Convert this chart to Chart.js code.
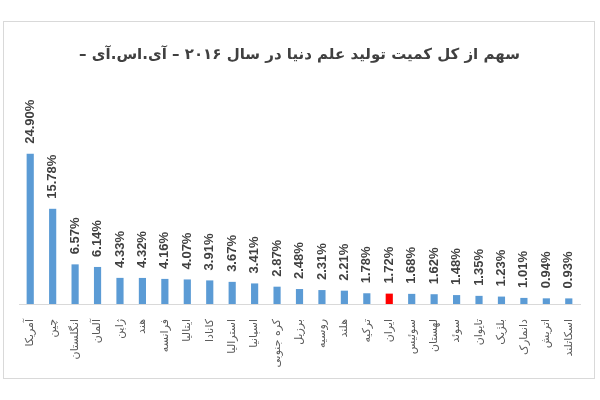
<!DOCTYPE html>
<html>
<head>
<meta charset="utf-8">
<script src="https://cdn.jsdelivr.net/npm/chart.js@4.4.0/dist/chart.umd.min.js"></script>
<style>
    body { margin: 0; background: #fff; }
    #box {
        position: absolute;
        left: 3px;
        top: 21px;
        width: 590px;
        height: 356px;
        border: 1px solid #d9d9d9;
    }
</style>
</head>
<body>
<div id="box"><canvas id="graph" dir="rtl" width="590" height="356"></canvas></div>
<script>
// عنوان و داده ها
const chartTitle = 'سهم از کل کمیت تولید علم دنیا در سال ۲۰۱۶ – آی.اس.آی –';

const countries = [
    'آمریکا', 'چین', 'انگلستان', 'آلمان', 'ژاپن', 'هند', 'فرانسه', 'ایتالیا',
    'کانادا', 'استرالیا', 'اسپانیا', 'کره جنوبی', 'برزیل', 'روسیه', 'هلند',
    'ترکیه', 'ایران', 'سوئیس', 'لهستان', 'سوئد', 'تایوان', 'بلژیک',
    'دانمارک', 'اتریش', 'اسکاتلند'
];

const shares = [
    24.90, 15.78, 6.57, 6.14, 4.33, 4.32, 4.16, 4.07,
    3.91, 3.67, 3.41, 2.87, 2.48, 2.31, 2.21,
    1.78, 1.72, 1.68, 1.62, 1.48, 1.35, 1.23,
    1.01, 0.94, 0.93
];

const highlighted = 'ایران';

const barColors = countries.map(c => c === highlighted ? '#ff0000' : '#5b9bd5');

// value labels drawn rotated above each bar
const valueLabels = {
    id: 'valueLabels',
    afterDatasetsDraw(chart) {
        const ctx = chart.ctx;
        const meta = chart.getDatasetMeta(0);
        ctx.save();
        ctx.fillStyle = '#404040';
        ctx.font = 'bold 13px "Liberation Sans", Arial, sans-serif';
        ctx.textAlign = 'left';
        ctx.textBaseline = 'middle';
        ctx.direction = 'ltr';
        meta.data.forEach((bar, i) => {
            ctx.save();
            ctx.translate(bar.x, bar.y - 10);
            ctx.rotate(-Math.PI / 2);
            ctx.fillText(shares[i].toFixed(2) + '%', 0, 0);
            ctx.restore();
        });
        ctx.restore();
    }
};

new Chart(document.getElementById('graph'), {
    type: 'bar',
    data: {
        labels: countries,
        datasets: [{
            data: shares,
            backgroundColor: barColors,
            barPercentage: 0.32,
            categoryPercentage: 1
        }]
    },
    options: {
        responsive: false,
        animation: false,
        layout: {
            padding: { left: 15, right: 14, top: 0, bottom: 0 }
        },
        plugins: {
            legend: { display: false },
            tooltip: { enabled: false },
            title: {
                display: true,
                text: chartTitle,
                color: '#404040',
                font: { family: '"DejaVu Sans", sans-serif', size: 15, weight: 'bold', lineHeight: 1.2 },
                padding: { top: 24, bottom: 59 }
            }
        },
        scales: {
            x: {
                grid: { display: false },
                border: { display: true, color: '#d9d9d9' },
                ticks: {
                    minRotation: 90,
                    maxRotation: 90,
                    autoSkip: false,
                    padding: 7,
                    color: '#595959',
                    font: { family: '"DejaVu Sans", sans-serif', size: 11 }
                },
                afterFit(scale) { scale.height = 74; }
            },
            y: {
                display: false,
                min: 0,
                max: 30
            }
        }
    },
    plugins: [valueLabels]
});
</script>
</body>
</html>
